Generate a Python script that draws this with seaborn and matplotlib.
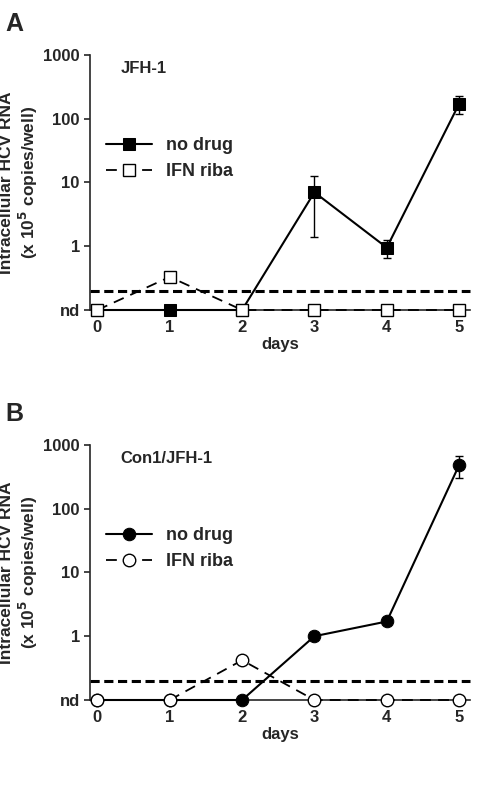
import matplotlib
matplotlib.use("Agg")
import matplotlib.pyplot as plt
import seaborn as sns
import pandas as pd

sns.set_style("ticks")
plt.rcParams['font.family'] = ['Liberation Sans', 'DejaVu Sans']
plt.rcParams['font.weight'] = 'bold'

ND = 0.1
days = [0, 1, 2, 3, 4, 5]
a_nodrug = [ND, ND, ND, 7.0, 0.95, 170]
a_nodrug_lo = [0, 0, 0, 1.4, 0.65, 120]
a_nodrug_hi = [0, 0, 0, 12.5, 1.25, 225]
a_ifn = [ND, 0.33, ND, ND, ND, ND]
b_nodrug = [ND, ND, ND, 1.0, 1.7, 480]
b_nodrug_lo = [0, 0, 0, 1.0, 1.7, 300]
b_nodrug_hi = [0, 0, 0, 1.0, 1.7, 660]
b_ifn = [ND, ND, 0.42, ND, ND, ND]
threshold = 0.2
yticks = [ND, 1, 10, 100, 1000]
yticklabels = ['nd', '1', '10', '100', '1000']

fig = plt.figure(figsize=(5.01, 8.0), dpi=100)

def panel(rect, letter, title, nd, lo, hi, ifn, marker):
    ax = fig.add_axes(rect)
    df1 = pd.DataFrame({'day': days, 'v': nd})
    df2 = pd.DataFrame({'day': days, 'v': ifn})
    ax.axhline(threshold, color='black', lw=2.2, ls=(0, (3, 1.5)), zorder=1)
    sns.lineplot(data=df1, x='day', y='v', ax=ax, color='black', lw=1.5,
                 marker=marker, markersize=9, markerfacecolor='black',
                 markeredgecolor='black', label='no drug', zorder=4)
    sns.lineplot(data=df2, x='day', y='v', ax=ax, color='black', lw=1.3,
                 linestyle=(0, (6, 4)), marker=marker, markersize=9,
                 markerfacecolor='white', markeredgecolor='black', markeredgewidth=1,
                 label='IFN riba', zorder=5)
    for ln in ax.lines:
        ln.set_clip_on(False)
    for d, v, l, h in zip(days, nd, lo, hi):
        if h > v or (l and l < v):
            ax.errorbar([d], [v], yerr=[[v - l], [h - v]], color='black', lw=1, capsize=3, zorder=2)
    ax.set_yscale('log')
    ax.set_ylim(ND, 1000)
    ax.set_xlim(-0.1, 5.15)
    ax.set_yticks(yticks)
    ax.set_yticklabels(yticklabels)
    ax.minorticks_off()
    ax.set_xticks(days)
    ax.tick_params(labelsize=12, width=1.2, length=4)
    for t in ax.get_xticklabels() + ax.get_yticklabels():
        t.set_fontweight('bold')
    sns.despine(ax=ax)
    for s in ['left', 'bottom']:
        ax.spines[s].set_linewidth(1.2)
    ax.set_xlabel('days', fontsize=12, fontweight='bold', labelpad=1)
    ax.set_ylabel('Intracellular HCV RNA\n(x 10$^{\\mathbf{5}}$ copies/well)', fontsize=12.5,
                  fontweight='bold', labelpad=2)
    ax.text(0.08, 0.93, title, transform=ax.transAxes, fontsize=12, fontweight='bold')
    ax.legend(loc='upper left', bbox_to_anchor=(0.0, 0.74),
              frameon=False, prop={'size': 13, 'weight': 'bold'}, handlelength=2.5)
    fig.text(0.01, rect[1] + rect[3] + 0.03, letter, fontsize=18, fontweight='bold')

panel([0.18, 0.6125, 0.758, 0.319], 'A', 'JFH-1', a_nodrug, a_nodrug_lo, a_nodrug_hi, a_ifn, 's')
panel([0.18, 0.125, 0.758, 0.319], 'B', 'Con1/JFH-1', b_nodrug, b_nodrug_lo, b_nodrug_hi, b_ifn, 'o')

fig.savefig('out.png', dpi=100)
